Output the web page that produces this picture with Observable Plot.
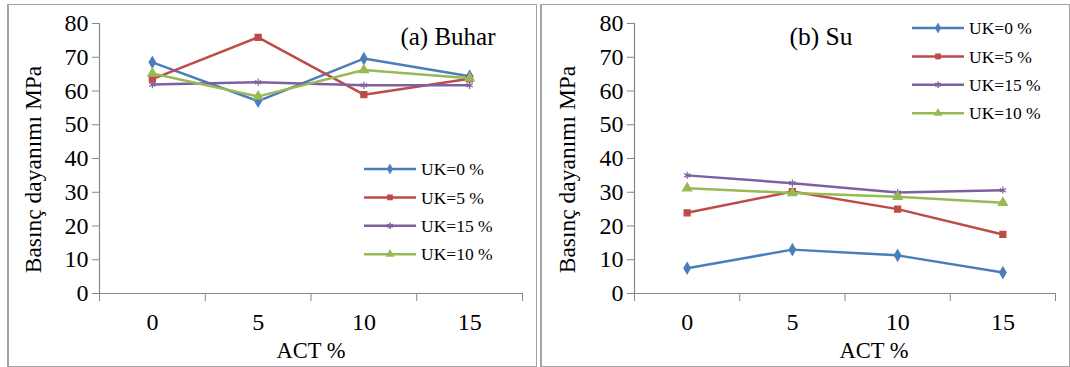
<!DOCTYPE html>
<html>
<head>
<meta charset="utf-8">
<script src="https://cdn.jsdelivr.net/npm/d3@7"></script>
<script src="https://cdn.jsdelivr.net/npm/@observablehq/plot@0.6"></script>
<style>
  html, body { margin: 0; padding: 0; background: #fff; }
  body { width: 1070px; height: 367px; position: relative; overflow: hidden; }
  .frame { position: absolute; box-sizing: border-box; border: 1px solid #a3a3a3; border-left-width: 2px; }
  .chart { position: absolute; }
  .chart svg [aria-label$="tick"] { stroke: #868686; }
</style>
</head>
<body>
<div class="frame" style="left:7px; top:4px; width:530px; height:363px;"></div>
<div class="frame" style="left:540px; top:4px; width:530px; height:363px;"></div>
<div id="buhar" class="chart" style="left:7px; top:4px;"></div>
<div id="su" class="chart" style="left:540px; top:4px;"></div>
<script>
// ACT content on the x axis (%), compressive strength in MPa on the y axis
const actLevels = [0, 5, 10, 15];
const yTicks = [0, 10, 20, 30, 40, 50, 60, 70, 80];
const seriesNames = ["UK=0 %", "UK=5 %", "UK=15 %", "UK=10 %"];
const seriesColors = ["#4a7ebb", "#be4b48", "#7d60a0", "#98b954"];
const seriesSymbols = ["diamond", "square", "asterisk", "triangle"];

// (a) steam curing
const buharUK0 = [68.5, 57.0, 69.6, 64.4];
const buharUK5 = [63.5, 75.9, 58.9, 63.6];
const buharUK15 = [61.9, 62.6, 61.7, 61.7];
const buharUK10 = [65.2, 58.4, 66.2, 63.8];

// (b) water curing
const suUK0 = [7.5, 13.0, 11.3, 6.2];
const suUK5 = [23.9, 30.2, 25.0, 17.5];
const suUK15 = [35.0, 32.7, 29.9, 30.6];
const suUK10 = [31.2, 29.8, 28.7, 26.9];

const FONT = "'Liberation Serif', 'Times New Roman', serif";
const GREY = "#868686";

function toRows(seriesValues) {
  return seriesValues.flatMap((vals, s) =>
    vals.map((v, i) => ({series: seriesNames[s], act: actLevels[i], value: v})));
}

function drawLegend(svg, x0, y0, step) {
  const g = d3.select(svg).append("g")
    .attr("font-family", FONT).attr("font-size", 17.5).attr("text-anchor", "start");
  const symbolTypes = {diamond: d3.symbolDiamond, square: d3.symbolSquare, asterisk: d3.symbolAsterisk, triangle: d3.symbolTriangle};
  seriesNames.forEach((name, i) => {
    const row = g.append("g").attr("transform", `translate(${x0},${y0 + i * step})`);
    row.append("line").attr("x1", 0).attr("x2", 52).attr("stroke", seriesColors[i]).attr("stroke-width", 2.5);
    const isStroke = seriesSymbols[i] === "asterisk";
    row.append("path")
      .attr("transform", "translate(26,0)")
      .attr("d", d3.symbol(symbolTypes[seriesSymbols[i]], Math.PI * 3 * 3)())
      .attr("fill", isStroke ? "none" : seriesColors[i])
      .attr("stroke", seriesColors[i])
      .attr("stroke-width", isStroke ? 1.5 : 0.5);
    row.append("text").attr("x", 57).attr("dy", "0.35em").attr("fill", "#000").text(name);
  });
}

function panel({rows, marginLeft, title, titleOpts, xLabelDx, yLabelDx}) {
  return Plot.plot({
    width: 530,
    height: 362,
    marginLeft,
    marginRight: 15,
    marginTop: 19,
    marginBottom: 73,
    style: {fontFamily: FONT, fontSize: "24px", color: "#000", background: "transparent", overflow: "visible"},
    x: {domain: [-2.5, 17.5]},
    y: {domain: [0, 80]},
    color: {domain: seriesNames, range: seriesColors},
    symbol: {domain: seriesNames, range: seriesSymbols},
    marks: [
      Plot.axisY({ticks: yTicks, tickSize: 7, tickPadding: 4, label: null}),
      Plot.axisX({ticks: [-2.5, 2.5, 7.5, 12.5, 17.5], tickSize: 8, tickFormat: () => "", label: null}),
      Plot.axisX({ticks: actLevels, tickSize: 0, tickPadding: 19, label: null}),
      Plot.ruleX([-2.5], {stroke: GREY, strokeWidth: 1.2}),
      Plot.ruleY([0], {stroke: GREY, strokeWidth: 1.2}),
      Plot.line(rows, {x: "act", y: "value", z: "series", stroke: "series", strokeWidth: 2.5}),
      Plot.dot(rows, {x: "act", y: "value", symbol: "series", stroke: "series", fill: "series",
        r: 3.4, strokeWidth: 1.2}),
      Plot.text(["ACT %"], {frameAnchor: "bottom", textAnchor: "middle", lineAnchor: "middle",
        dy: 57, dx: xLabelDx, fontSize: 22.5}),
      Plot.text(["Basınç dayanımı MPa"], {frameAnchor: "left", textAnchor: "middle", lineAnchor: "middle",
        rotate: -90, dx: yLabelDx, dy: 11, fontSize: 23.5}),
      Plot.text([title], {lineAnchor: "middle", ...titleOpts})
    ]
  });
}

const buharChart = panel({
  rows: toRows([buharUK0, buharUK5, buharUK15, buharUK10]),
  marginLeft: 92,
  title: "(a) Buhar",
  titleOpts: {frameAnchor: "top-right", textAnchor: "end", dx: -27, dy: 13, fontSize: 25},
  xLabelDx: 0,
  yLabelDx: -66
});
drawLegend(buharChart, 357, 165, 28.4);
document.getElementById("buhar").append(buharChart);

const suChart = panel({
  rows: toRows([suUK0, suUK5, suUK15, suUK10]),
  marginLeft: 94,
  title: "(b) Su",
  titleOpts: {frameAnchor: "top", textAnchor: "middle", dx: -24, dy: 13, fontSize: 25.5},
  xLabelDx: 29,
  yLabelDx: -67
});
drawLegend(suChart, 372, 24, 28.4);
document.getElementById("su").append(suChart);
</script>
</body>
</html>
